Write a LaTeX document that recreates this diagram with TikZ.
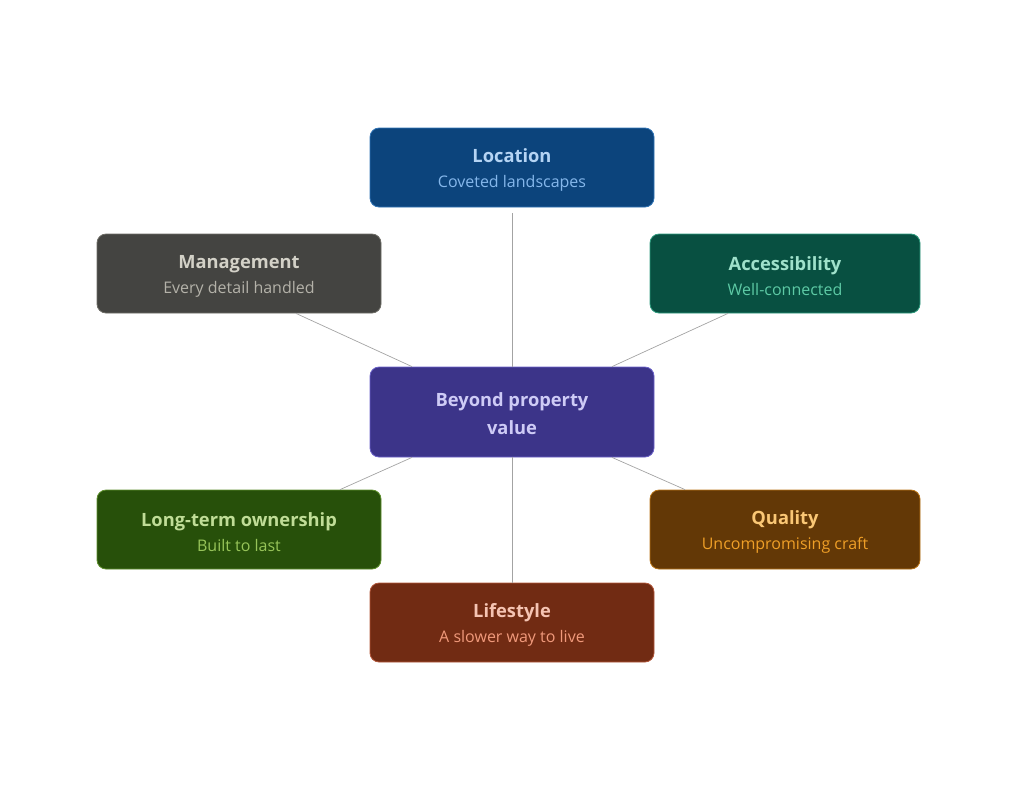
\documentclass[tikz,border=0pt]{standalone}
\usepackage{fontspec}
\setmainfont{Open Sans}
\usepackage{xcolor}

\definecolor{linkgray}{HTML}{A3A3A3}
\definecolor{locF}{HTML}{0C447C}\definecolor{locB}{HTML}{2F73B5}
\definecolor{locT}{HTML}{B5D4F4}\definecolor{locS}{HTML}{85B7EB}
\definecolor{mgtF}{HTML}{444441}\definecolor{mgtB}{HTML}{6E6D66}
\definecolor{mgtT}{HTML}{D3D1C7}\definecolor{mgtS}{HTML}{B4B2A9}
\definecolor{accF}{HTML}{085041}\definecolor{accB}{HTML}{2F9C7F}
\definecolor{accT}{HTML}{9FE1CB}\definecolor{accS}{HTML}{5DCAA5}
\definecolor{coreF}{HTML}{3C3489}\definecolor{coreB}{HTML}{6A61C8}
\definecolor{coreT}{HTML}{CECBF6}
\definecolor{ownF}{HTML}{27500A}\definecolor{ownB}{HTML}{5E8F2C}
\definecolor{ownT}{HTML}{C0DD97}\definecolor{ownS}{HTML}{97C459}
\definecolor{qualF}{HTML}{633806}\definecolor{qualB}{HTML}{BA7517}
\definecolor{qualT}{HTML}{FAC775}\definecolor{qualS}{HTML}{EF9F27}
\definecolor{lifeF}{HTML}{712B13}\definecolor{lifeB}{HTML}{B3573A}
\definecolor{lifeT}{HTML}{F5C4B3}\definecolor{lifeS}{HTML}{F0997B}

\tikzset{
    card/.style={draw, line width=0.8pt, rounded corners=9pt,
        minimum width=284pt, minimum height=79pt, inner sep=0pt,
        align=center, font=\fontsize{16}{25.5}\selectfont},
    link/.style={draw=linkgray, line width=0.7pt},
}
\newcommand{\cardtitle}[1]{{\fontsize{18.3}{25}\selectfont\bfseries\rule{0pt}{19pt}#1}}

\begin{document}
\begin{tikzpicture}[x=1pt, y=-1pt]
    \useasboundingbox (0,0) rectangle (1024,796);

    \node[card, fill=locF, draw=locB, text=locS] (loc) at (512,167.5)
        {\textcolor{locT}{\cardtitle{Location}}\\Coveted landscapes};
    \node[card, fill=mgtF, draw=mgtB, text=mgtS] (mgt) at (239,273.5)
        {\textcolor{mgtT}{\cardtitle{Management}}\\Every detail handled};
    \node[card, fill=accF, draw=accB, text=accS, minimum width=270pt] (acc) at (785,273.5)
        {\textcolor{accT}{\cardtitle{Accessibility}}\\Well-connected};
    \node[card, fill=coreF, draw=coreB, text=coreT, minimum height=90pt,
        font=\fontsize{18.3}{28}\selectfont\bfseries] (core) at (512,412)
        {\rule{0pt}{18pt}Beyond property\\value};
    \node[card, fill=ownF, draw=ownB, text=ownS] (own) at (239,529.5)
        {\textcolor{ownT}{\cardtitle{Long-term ownership}}\\Built to last};
    \node[card, fill=qualF, draw=qualB, text=qualS, minimum width=270pt] (qual) at (785,529.5)
        {\textcolor{qualT}{\cardtitle{Quality}}\\Uncompromising craft};
    \node[card, fill=lifeF, draw=lifeB, text=lifeS] (life) at (512,622.5)
        {\textcolor{lifeT}{\cardtitle{Lifestyle}}\\A slower way to live};

    % spokes
    \draw[link] ([yshift=-6pt]loc.south) -- (core.north);
    \draw[link] ([xshift=57pt]mgt.south) -- ([xshift=-100pt]core.north);
    \draw[link] ([xshift=-57pt]acc.south) -- ([xshift=100pt]core.north);
    \draw[link] ([xshift=-100pt]core.south) -- ([xshift=101pt]own.north);
    \draw[link] ([xshift=100pt]core.south) -- ([xshift=-100pt]qual.north);
    \draw[link] (core.south) -- (life.north);
\end{tikzpicture}
\end{document}
